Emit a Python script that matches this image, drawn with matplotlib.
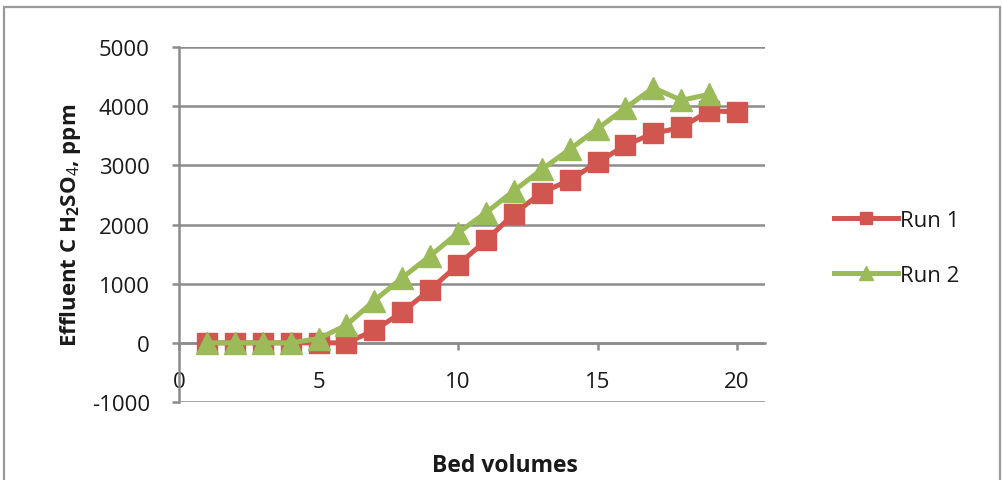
import matplotlib.pyplot as plt
from matplotlib.patches import Rectangle
import numpy as np

plt.rcParams['font.family'] = ['Open Sans', 'DejaVu Sans']
plt.rcParams['mathtext.fontset'] = 'custom'
plt.rcParams['mathtext.bf'] = 'Open Sans:bold'
plt.rcParams['mathtext.it'] = 'Open Sans:italic:bold'
plt.rcParams['mathtext.rm'] = 'Open Sans'
plt.rcParams['axes.unicode_minus'] = False

bed_vol_1 = [1, 2, 3, 4, 5, 6, 7, 8, 9, 10, 11, 12, 13, 14, 15, 16, 17, 18, 19, 20]
run_1 = [0, 0, 0, 0, 0, 0, 210, 520, 900, 1320, 1730, 2180, 2540, 2750, 3050,
         3340, 3540, 3640, 3920, 3905]
bed_vol_2 = [1, 2, 3, 4, 5, 6, 7, 8, 9, 10, 11, 12, 13, 14, 15, 16, 17, 18, 19]
run_2 = [0, 0, 0, 0, 70, 300, 715, 1100, 1470, 1860, 2200, 2570, 2930, 3270,
         3620, 3970, 4310, 4100, 4200]

red = '#D0564F'
green = '#9BBB59'
grey = '#8C8C8C'
txt = '#1A1A1A'

fig = plt.figure(figsize=(10.02, 4.81), dpi=100)
ax = fig.add_axes([179 / 1002, 1 - 403 / 481, (765 - 179) / 1002, (403 - 48) / 481])

ax.plot(bed_vol_1, run_1, color=red, lw=3.6, marker='s', ms=15, label='Run 1', zorder=3)
ax.plot(bed_vol_2, run_2, color=green, lw=3.6, marker='^', ms=16, label='Run 2', zorder=4)

ax.set_xlim(0, 21.0)
ax.set_ylim(-1000, 5000)
ax.set_yticks(np.arange(-1000, 5001, 1000))
ax.set_xticks([0, 5, 10, 15, 20])
ax.yaxis.grid(True, color=grey, lw=1.8)
ax.set_axisbelow(True)

for s in ['top', 'right']:
    ax.spines[s].set_visible(False)
ax.spines['left'].set_color(grey)
ax.spines['left'].set_linewidth(1.8)
ax.spines['bottom'].set_position(('data', 0))
ax.spines['bottom'].set_color(grey)
ax.spines['bottom'].set_linewidth(1.8)

ax.tick_params(axis='y', length=5, width=1.8, color=grey, pad=16, labelsize=16, labelcolor=txt)
ax.tick_params(axis='x', length=5, width=1.8, color=grey, pad=15, labelsize=16, labelcolor=txt)

ax.set_ylabel(r'Effluent C H$_\mathbf{2}$SO$_\mathit{4}$, ppm', fontsize=16,
              fontweight='bold', color=txt)
ax.yaxis.set_label_coords(-0.164, 0.5)
fig.text(505 / 1002, 1 - 466 / 481, 'Bed volumes', fontsize=16.5, fontweight='bold',
         ha='center', va='center', color=txt)

leg = fig.legend(loc='center left', bbox_to_anchor=(814 / 1002, 1 - 249 / 481),
                 frameon=False, fontsize=16, handlelength=2.9, handletextpad=0.05,
                 labelspacing=1.55, markerscale=0.6)
for t in leg.get_texts():
    t.set_color(txt)

fig.patches.append(Rectangle((4 / 1002, -0.1), (1000 - 4) / 1002, 1.1 - 8 / 481,
                             transform=fig.transFigure, fill=False,
                             edgecolor='#9A9A9A', lw=1.6))

fig.savefig('out.png', dpi=100)
